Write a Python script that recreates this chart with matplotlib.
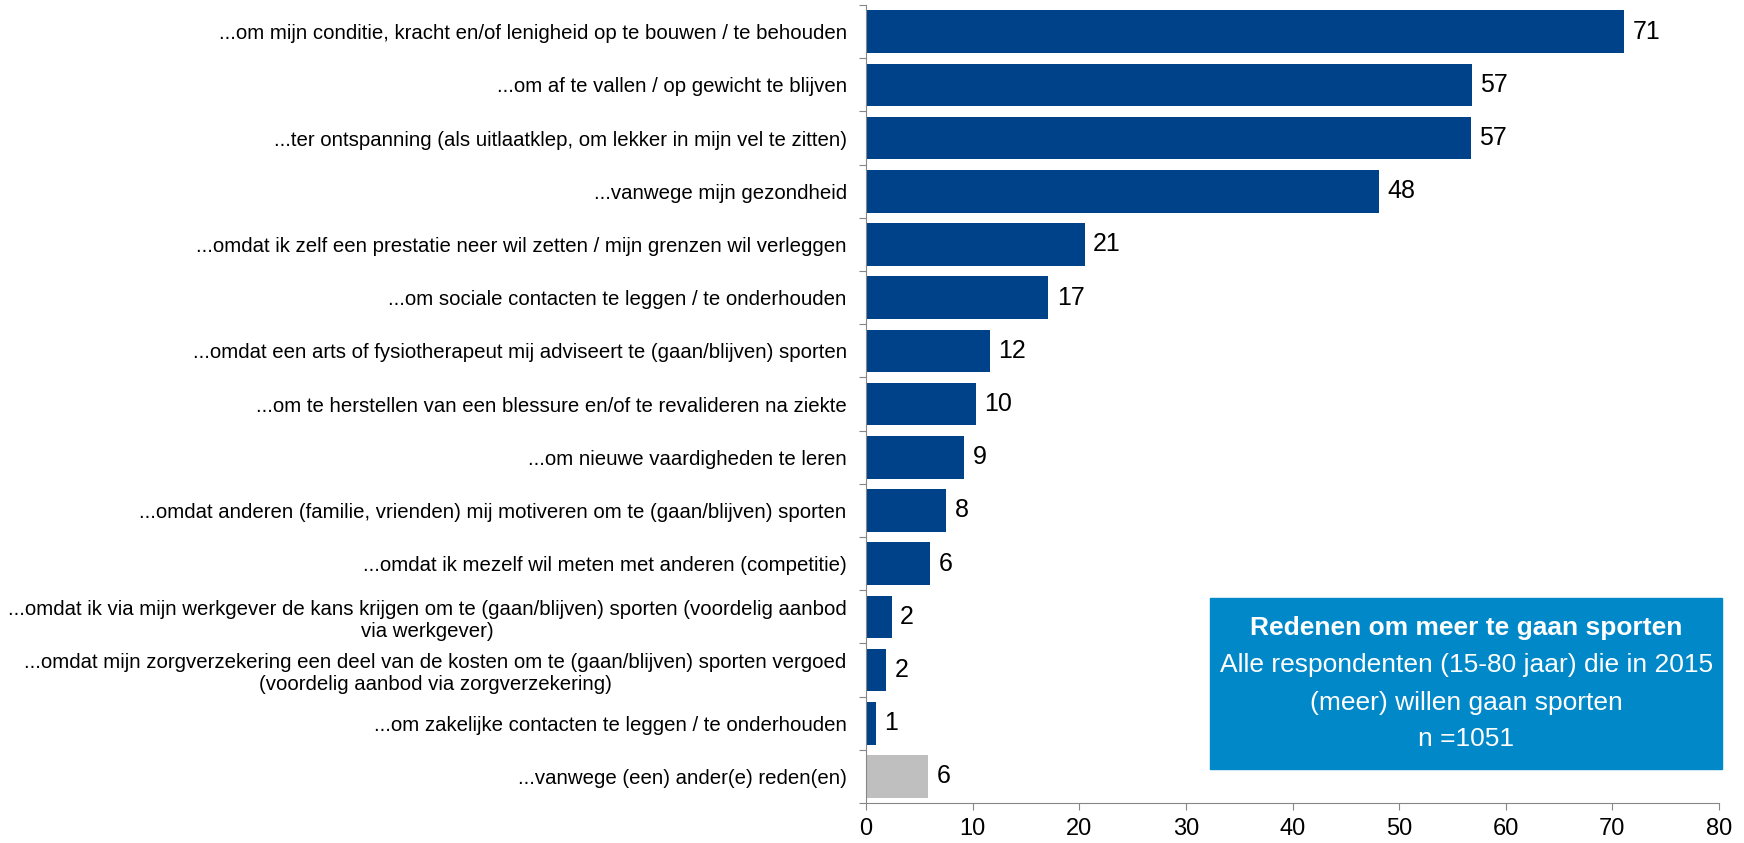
import matplotlib.pyplot as plt

plt.rcParams['font.family'] = ['Liberation Sans', 'DejaVu Sans']

# redenen om meer te gaan sporten (%)
redenen = [
    "...om mijn conditie, kracht en/of lenigheid op te bouwen / te behouden",
    "...om af te vallen / op gewicht te blijven",
    "...ter ontspanning (als uitlaatklep, om lekker in mijn vel te zitten)",
    "...vanwege mijn gezondheid",
    "...omdat ik zelf een prestatie neer wil zetten / mijn grenzen wil verleggen",
    "...om sociale contacten te leggen / te onderhouden",
    "...omdat een arts of fysiotherapeut mij adviseert te (gaan/blijven) sporten",
    "...om te herstellen van een blessure en/of te revalideren na ziekte",
    "...om nieuwe vaardigheden te leren",
    "...omdat anderen (familie, vrienden) mij motiveren om te (gaan/blijven) sporten",
    "...omdat ik mezelf wil meten met anderen (competitie)",
    "...omdat ik via mijn werkgever de kans krijgen om te (gaan/blijven) sporten (voordelig aanbod\nvia werkgever)",
    "...omdat mijn zorgverzekering een deel van de kosten om te (gaan/blijven) sporten vergoed\n(voordelig aanbod via zorgverzekering)",
    "...om zakelijke contacten te leggen / te onderhouden",
    "...vanwege (een) ander(e) reden(en)",
]
waarden = [71.1, 56.8, 56.7, 48.1, 20.5, 17.1, 11.6, 10.3, 9.2, 7.5, 6.0, 2.4, 1.9, 0.9, 5.8]
labels = ["71", "57", "57", "48", "21", "17", "12", "10", "9", "8", "6", "2", "2", "1", "6"]

blauw = "#00428A"
grijs = "#BFBFBF"
kleuren = [blauw] * 14 + [grijs]

fig = plt.figure(figsize=(17.44, 8.43), dpi=100)
ax = fig.add_axes([0.4966, 0.0474, 0.4891, 0.9466])

y = list(range(len(redenen)))
ax.barh(y, waarden, height=0.8, color=kleuren)
for i in y:
    ax.text(waarden[i] + 0.8, i, labels[i], va='center', ha='left', fontsize=18)

ax.set_ylim(len(redenen) - 0.5, -0.5)
ax.set_xlim(0, 80)
ax.set_xticks(range(0, 81, 10))
ax.set_yticks([i - 0.5 for i in y] + [len(y) - 0.5])
ax.set_yticklabels([])
ax.set_yticks(y, minor=True)
ax.set_yticklabels(redenen, minor=True, fontsize=14.7, multialignment='center')
ax.tick_params(axis='y', which='minor', length=0, pad=14)
ax.tick_params(axis='y', which='major', length=5, color='#868686')
ax.tick_params(axis='x', length=5, color='#868686', labelsize=17, pad=6)

for s in ['top', 'right']:
    ax.spines[s].set_visible(False)
for s in ['left', 'bottom']:
    ax.spines[s].set_color('#868686')

# informatieblok
box_x, box_y = 0.694, 0.088
box_w, box_h = 0.2936, 0.203
fig.patches.append(plt.Rectangle((box_x, box_y), box_w, box_h, transform=fig.transFigure,
                                 color='#0088C8', zorder=5))
cx = box_x + box_w / 2
fig.text(cx, 0.255, "Redenen om meer te gaan sporten", color='white', fontsize=19,
         fontweight='bold', ha='center', va='center', zorder=6)
fig.text(cx, 0.211, "Alle respondenten (15-80 jaar) die in 2015", color='white', fontsize=19,
         ha='center', va='center', zorder=6)
fig.text(cx, 0.166, "(meer) willen gaan sporten", color='white', fontsize=19,
         ha='center', va='center', zorder=6)
fig.text(cx, 0.123, "n =1051", color='white', fontsize=19,
         ha='center', va='center', zorder=6)

fig.savefig("out.png", dpi=100)
